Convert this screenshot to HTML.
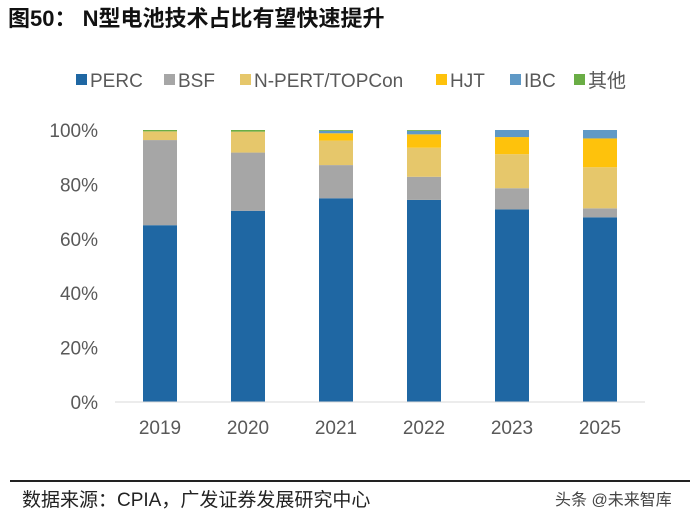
<!DOCTYPE html>
<html><head><meta charset="utf-8"><style>
body{margin:0;width:700px;height:516px;background:#fff;overflow:hidden;font-family:"Liberation Sans","Noto Sans CJK SC",sans-serif;}
#title{position:absolute;left:8px;top:1px;font-size:22px;font-weight:bold;color:#111;}
#rule{position:absolute;left:10px;top:480px;width:680px;height:2px;background:#222;}
#source{position:absolute;left:22px;top:485px;font-size:19px;color:#222;}
#wm{position:absolute;left:555px;top:486px;font-size:16px;color:#444;}
</style></head><body>
<div id="title">图50：&nbsp;N型电池技术占比有望快速提升</div>
<svg id="chart" width="700" height="516" style="position:absolute;left:0;top:0"></svg>
<div id="rule"></div>
<div id="source">数据来源：CPIA，广发证券发展研究中心</div>
<div id="wm">头条 @未来智库</div>
<script>
const categories=["2019","2020","2021","2022","2023","2025"];
const seriesNames=["PERC","BSF","N-PERT/TOPCon","HJT","IBC","其他"];
const perc=[65,70.3,74.9,74.3,70.8,67.9];
const bsf=[31.3,21.4,12.2,8.5,7.8,3.3];
const npert=[3.2,7.7,9,10.7,12.5,15.1];
const hjt=[0,0,2.7,4.9,6.3,10.6];
const ibc=[0,0,0.9,1.3,2.6,3.1];
const other=[0.5,0.6,0.3,0.3,0,0];
const yTicks=[0,20,40,60,80,100];
const series=[perc,bsf,npert,hjt,ibc,other];
const colors=["#1f67a3","#a6a6a6","#e6c76b","#fec20c","#5f99c6","#6aad45"];
const svg=document.getElementById('chart');
const NS="http://www.w3.org/2000/svg";
const y0=402,y1=130;
const y=v=>y0-(y0-y1)*v/100;
const x=i=>160+i*88;
const bw=34;
function mk(t,a){const e=document.createElementNS(NS,t);for(const k in a)e.setAttribute(k,a[k]);svg.appendChild(e);return e;}
yTicks.forEach(t=>{const e=mk('text',{x:98,y:y(t)+7,'text-anchor':'end','font-size':19,fill:'#595959'});e.textContent=t+'%';

});
categories.forEach((c,i)=>{const e=mk('text',{x:x(i),y:434,'text-anchor':'middle','font-size':19,fill:'#595959'});e.textContent=c;


let acc=0;series.forEach((s,k)=>{const v=s[i];if(v>0){const r=mk('rect',{x:x(i)-bw/2,y:y(acc+v),width:bw,height:y(acc)-y(acc+v),fill:colors[k]});

}acc+=v;});});
mk('line',{x1:115,x2:645,y1:y0,y2:y0,stroke:'#d9d9d9','stroke-width':1});
const lx=[76,164,240,436,510,574];
seriesNames.forEach((n,k)=>{const r=mk('rect',{x:lx[k],y:74,width:11,height:11,fill:colors[k]});


const t=mk('text',{x:lx[k]+14,y:87,'font-size':19,fill:'#595959'});t.textContent=n;

});
</script>
</body></html>
